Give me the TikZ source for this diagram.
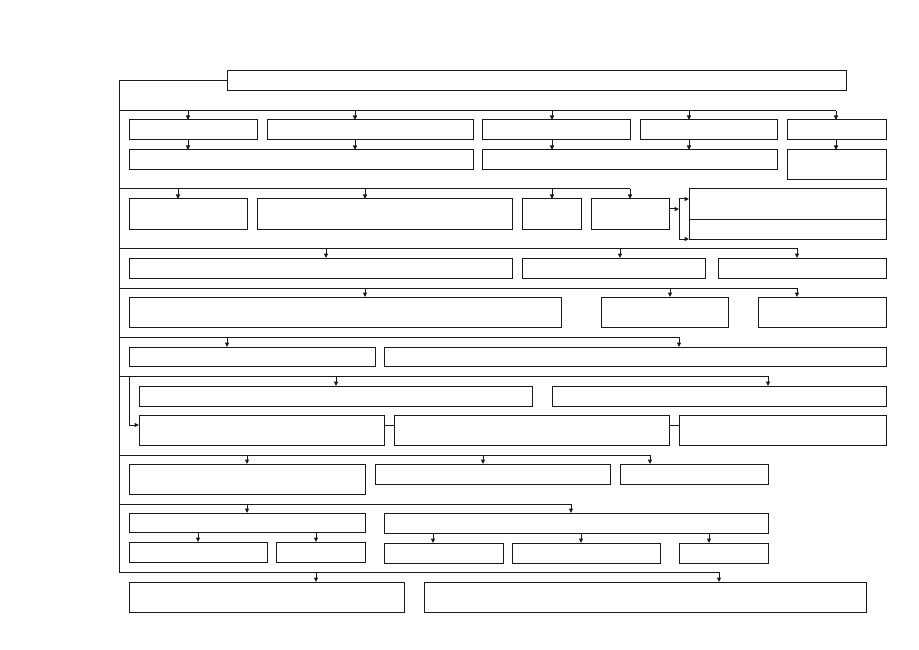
\documentclass[tikz,border=0pt]{standalone}
\usetikzlibrary{arrows.meta}
\tikzset{
  boxst/.style={draw=black!90, line width=1pt, inner sep=0pt, outer sep=0pt, fill=white},
  ln/.style={draw=black!90, line width=1pt},
  arr/.style={ln, -{Triangle[length=4.5pt,width=4pt]}}
}
\newcommand\bx[5]{\node[boxst, minimum width={(#4-#2)*1pt}, minimum height={(#5-#3)*1pt}] (#1) at ({(#2+#4)/2},{(#3+#5)/2}) {};}
\begin{document}
\begin{tikzpicture}[x=1pt,y=-1pt]
\useasboundingbox[fill=white] (0,0) rectangle (919,650);
% boxes
\bx{top}{227}{71}{846}{91}
\bx{A}{129}{120}{257}{140}
\bx{B}{267}{120}{473}{140}
\bx{C}{482}{120}{630}{140}
\bx{D}{640}{120}{777}{140}
\bx{E}{787}{120}{886}{140}
\bx{F}{129}{150}{473}{170}
\bx{G}{482}{150}{777}{170}
\bx{H}{787}{150}{886}{180}
\bx{I}{129}{199}{247}{229}
\bx{J}{257}{199}{512}{229}
\bx{K}{522}{199}{581}{229}
\bx{L}{591}{199}{669}{229}
\bx{Ma}{689}{189}{886}{219}
\bx{Mb}{689}{219}{886}{239}
\bx{N}{129}{258}{512}{278}
\bx{O}{522}{258}{705}{278}
\bx{P}{718}{258}{886}{278}
\bx{Q}{129}{297}{561}{327}
\bx{R}{601}{297}{728}{327}
\bx{S}{758}{297}{886}{327}
\bx{T}{129}{347}{375}{366}
\bx{U}{384}{347}{886}{366}
\bx{V}{139}{386}{532}{406}
\bx{W}{552}{386}{886}{406}
\bx{X}{139}{415}{384}{445}
\bx{Y}{394}{415}{669}{445}
\bx{Z}{679}{415}{886}{445}
\bx{AA}{129}{464}{365}{494}
\bx{AB}{375}{464}{610}{484}
\bx{AC}{620}{464}{768}{484}
\bx{AD}{129}{513}{365}{532}
\bx{AE}{384}{513}{768}{533}
\bx{AF}{129}{542}{267}{562}
\bx{AG}{276}{542}{365}{562}
\bx{AH}{384}{543}{503}{563}
\bx{AI}{512}{543}{660}{563}
\bx{AJ}{679}{543}{768}{563}
\bx{AK}{129}{582}{404}{612}
\bx{AL}{424}{582}{866}{612}
% trunk
\coordinate (tend) at (119,572);
\draw[ln] (top.west) -| (tend);
% bus 1
\coordinate (b1a) at (188,111); \coordinate (b1b) at (355,111); \coordinate (b1c) at (552,111);
\coordinate (b1d) at (689,111); \coordinate (b1e) at (836,111);
\draw[ln] (tend |- b1a) -- (b1e);
\foreach \c/\n/\m in {b1a/A/F, b1b/B/F, b1c/C/G, b1d/D/G, b1e/E/H}{
  \draw[arr] (\c) -- (\c |- \n.north);
  \draw[arr] (\c |- \n.south) -- (\c |- \m.north);
}
% bus 2
\coordinate (b2a) at (178,189); \coordinate (b2b) at (365,189); \coordinate (b2c) at (552,189); \coordinate (b2d) at (630,189);
\draw[ln] (tend |- b2a) -- (b2d);
\foreach \c/\n in {b2a/I, b2b/J, b2c/K, b2d/L}{ \draw[arr] (\c) -- (\c |- \n.north); }
\coordinate (jn) at (679,209); \coordinate (jt) at (679,199); \coordinate (jb) at (679,239);
\draw[arr] (L.east |- jn) -- (jn);
\draw[ln] (jt) -- (jb);
\draw[arr] (jt) -- (Ma.west |- jt);
\draw[arr] (jb) -- (Mb.south west);
% bus 3
\coordinate (b3a) at (326,248); \coordinate (b3b) at (620,248); \coordinate (b3c) at (797,248);
\draw[ln] (tend |- b3a) -- (b3c);
\foreach \c/\n in {b3a/N, b3b/O, b3c/P}{ \draw[arr] (\c) -- (\c |- \n.north); }
% bus 4
\coordinate (b4a) at (365,288); \coordinate (b4b) at (670,288); \coordinate (b4c) at (797,288);
\draw[ln] (tend |- b4a) -- (b4c);
\foreach \c/\n in {b4a/Q, b4b/R, b4c/S}{ \draw[arr] (\c) -- (\c |- \n.north); }
% bus 5
\coordinate (b5a) at (227,337); \coordinate (b5b) at (679,337);
\draw[ln] (tend |- b5a) -- (b5b);
\foreach \c/\n in {b5a/T, b5b/U}{ \draw[arr] (\c) -- (\c |- \n.north); }
% bus 6
\coordinate (b6a) at (336,376); \coordinate (b6b) at (768,376);
\draw[ln] (tend |- b6a) -- (b6b);
\foreach \c/\n in {b6a/V, b6b/W}{ \draw[arr] (\c) -- (\c |- \n.north); }
\coordinate (s6) at (129,376); \coordinate (s6e) at (129,425);
\draw[arr] (s6) -- (s6e) -- (X.west |- s6e);
\draw[ln] (X.east |- s6e) -- (Y.west |- s6e);
\draw[ln] (Y.east |- s6e) -- (Z.west |- s6e);
% bus 7
\coordinate (b7a) at (247,455); \coordinate (b7b) at (483,455); \coordinate (b7c) at (650,455);
\draw[ln] (tend |- b7a) -- (b7c);
\foreach \c/\n in {b7a/AA, b7b/AB, b7c/AC}{ \draw[arr] (\c) -- (\c |- \n.north); }
% bus 8
\coordinate (b8a) at (247,504); \coordinate (b8b) at (571,504);
\draw[ln] (tend |- b8a) -- (b8b);
\foreach \c/\n in {b8a/AD, b8b/AE}{ \draw[arr] (\c) -- (\c |- \n.north); }
\coordinate (d1) at (198,532); \coordinate (d2) at (316,532);
\coordinate (e1) at (433,533); \coordinate (e2) at (581,533); \coordinate (e3) at (709,533);
\draw[arr] (d1 |- AD.south) -- (d1 |- AF.north);
\draw[arr] (d2 |- AD.south) -- (d2 |- AG.north);
\draw[arr] (e1 |- AE.south) -- (e1 |- AH.north);
\draw[arr] (e2 |- AE.south) -- (e2 |- AI.north);
\draw[arr] (e3 |- AE.south) -- (e3 |- AJ.north);
% bus 9
\coordinate (b9a) at (316,572); \coordinate (b9b) at (719,572);
\draw[ln] (tend) -- (b9b);
\foreach \c/\n in {b9a/AK, b9b/AL}{ \draw[arr] (\c) -- (\c |- \n.north); }
\end{tikzpicture}
\end{document}
